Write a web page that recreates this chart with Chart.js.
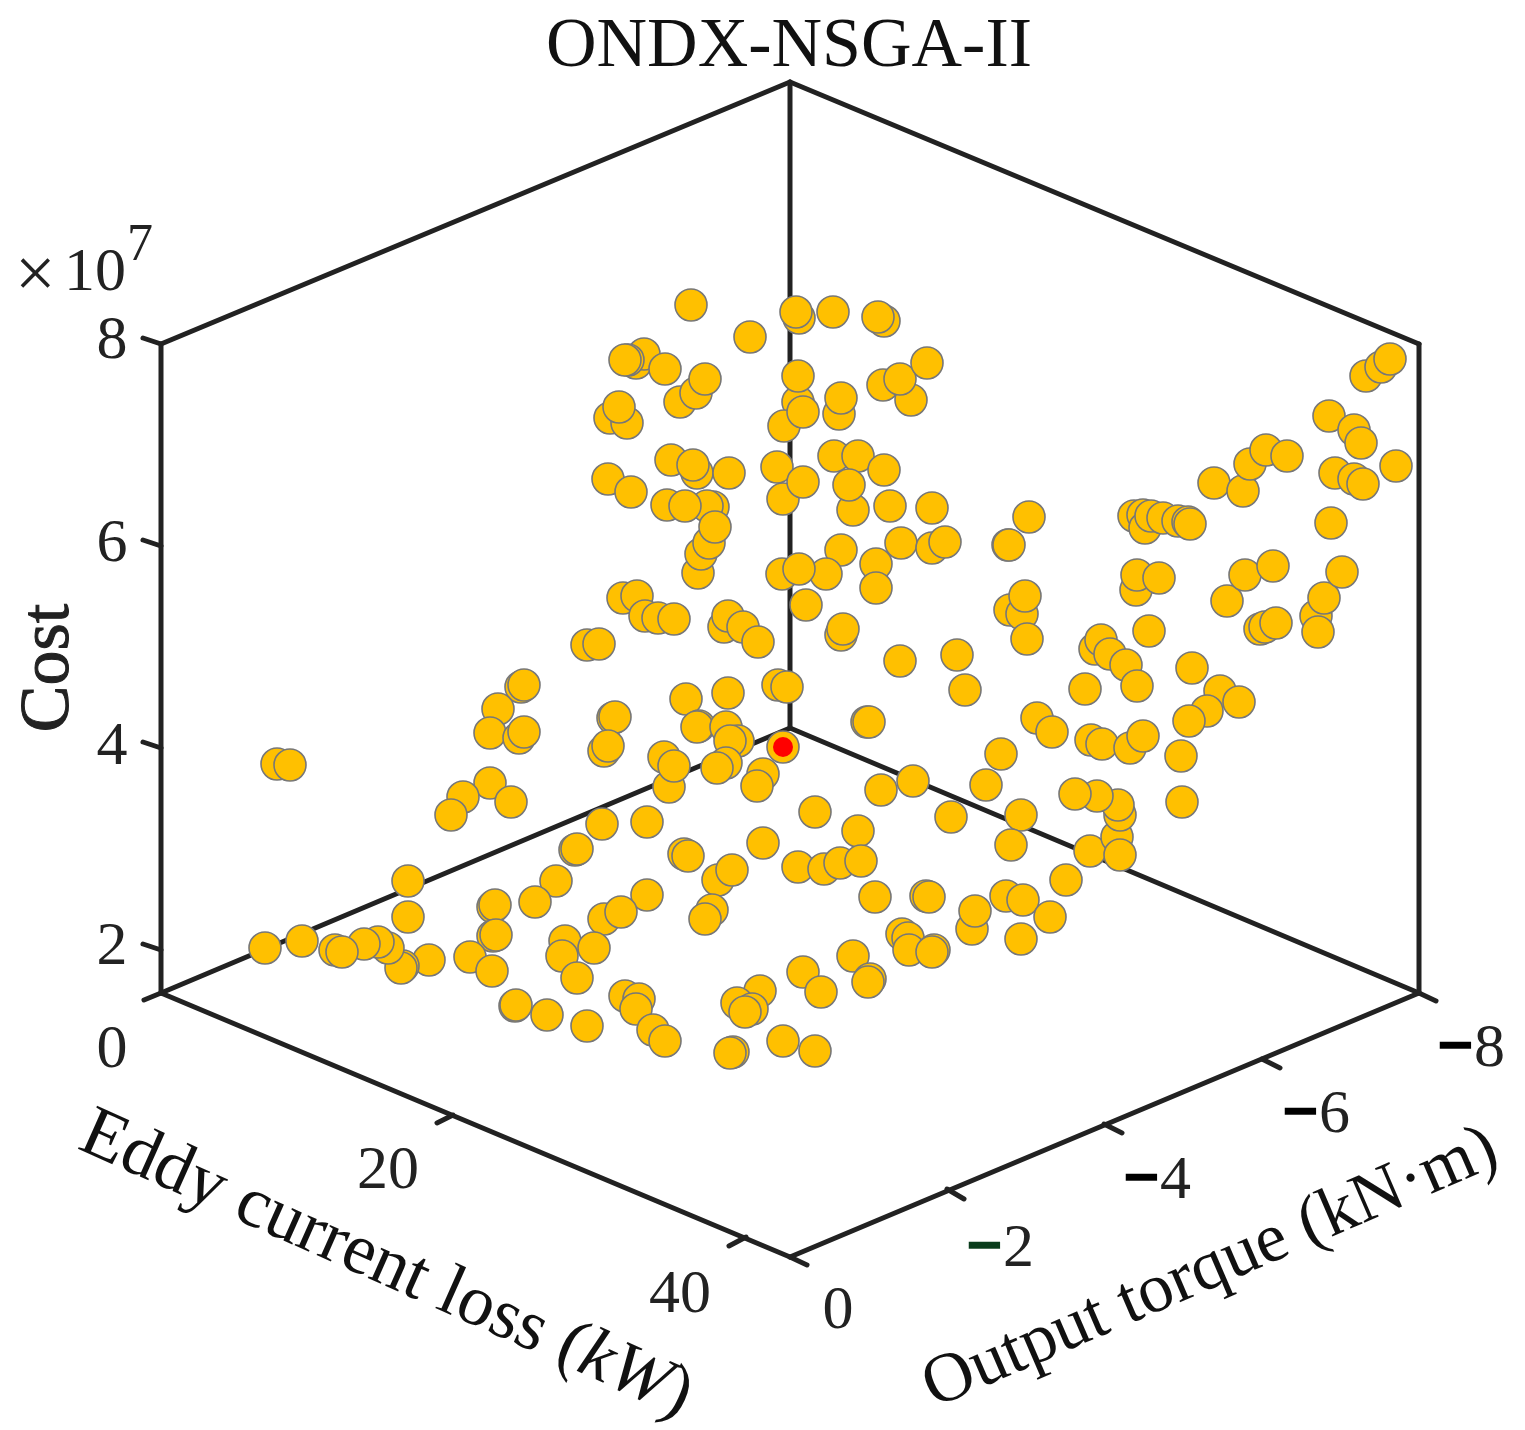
<!DOCTYPE html>
<html><head><meta charset="utf-8"><title>ONDX-NSGA-II</title>
<style>html,body{margin:0;padding:0;background:#fff}canvas{display:block}</style>
<script src="https://cdn.jsdelivr.net/npm/chart.js@4/dist/chart.umd.min.js"></script>
</head><body><canvas id="c" width="1525" height="1430"></canvas>
<script>
// Solutions, in the view plane of the 3-D projection
const viewH=[-9.9,-4.0,0.9,0.6,4.3,9.4,8.8,-15.4,-14.6,-16.2,-16.5,-12.5,-11.0,-9.4,-8.5,-18.0,-16.3,-17.1,0.8,0.8,-0.6,1.3,4.9,5.1,9.3,12.1,11.0,13.7,-11.9,-9.3,-9.7,-6.1,-18.2,-15.9,-0.7,-1.3,1.3,4.4,6.8,9.4,6.3,5.9,10.0,14.2,-12.3,-7.7,-8.3,-10.5,-9.2,-8.9,-8.1,-7.5,11.1,14.2,15.5,5.1,8.6,8.6,-0.8,3.6,0.9,1.6,-16.7,-15.3,-14.5,-13.2,-11.6,-6.6,-6.2,-4.7,-3.2,5.1,5.3,-20.3,-19.1,21.8,21.9,23.9,22.0,23.2,23.5,23.7,16.7,11.0,17.5,-1.2,-0.3,-10.4,-6.2,-9.1,-9.3,-6.4,-5.2,-6.0,7.7,7.9,-26.9,-26.6,-29.2,-30.0,-27.1,-26.6,-17.7,-17.5,-18.6,-18.2,-51.3,-50.0,-30.0,-32.7,-33.9,-27.9,-12.1,-12.6,-11.6,-6.4,-7.3,-2.7,-3.3,-0.7,2.5,9.1,12.3,19.6,21.1,16.1,23.1,22.1,6.8,-2.7,0.8,3.4,5.0,7.1,8.5,-18.8,-14.3,-21.5,-21.3,-10.6,-10.2,-7.2,-5.8,-14.3,-23.4,-25.5,-29.7,-29.5,-38.2,-38.2,-29.7,-29.4,-18.6,-16.9,-7.8,-8.5,-22.5,-22.8,-19.6,-21.3,-32.0,-29.8,-36.1,-38.7,-38.9,-40.2,-41.2,-42.6,-45.5,-44.8,-48.8,-52.5,-27.5,-27.4,-24.3,-20.3,-16.5,-15.1,-15.4,-13.7,-12.5,-5.7,-6.0,-0.7,2.5,-3.0,-5.3,-3.8,-4.5,1.3,3.1,6.3,8.0,7.8,11.2,11.8,11.9,14.4,14.2,18.2,18.5,13.6,13.9,21.6,23.3,23.1,26.0,27.6,30.0,32.7,33.0,33.0,32.8,30.7,28.5,24.7,26.2,30.1,31.2,34.0,35.3,39.1,39.2,29.5,30.5,31.1,32.0,33.6,34.7,35.9,40.2,34.6,34.7,36.9,34.4,35.3,35.5,36.1,37.3,38.8,39.8,40.0,42.4,45.3,46.0,47.6,49.7,43.7,45.5,48.3,47.0,47.5,48.6,52.6,52.8,53.4,55.2,54.1,53.9,56.4,57.1,54.5,56.4,57.3,60.6,57.6,59.1,60.0,43.0,44.9,41.7,39.9];
const viewV=[95.2,92.0,93.9,94.5,94.5,93.6,94.0,89.4,90.3,89.7,89.7,88.8,85.5,86.4,87.8,83.9,83.4,85.0,85.5,88.1,83.1,84.5,84.3,85.9,87.2,85.7,87.8,89.4,79.7,78.4,79.2,78.4,77.8,76.5,75.8,79.0,77.5,80.1,80.1,78.7,74.7,77.2,75.1,74.9,75.2,75.0,75.1,75.1,68.4,70.3,71.4,73.0,71.4,70.9,71.5,70.7,69.3,66.9,68.3,68.3,68.8,65.2,65.9,66.1,64.1,63.9,63.8,63.0,64.1,63.0,61.5,62.2,62.8,61.2,61.3,71.2,71.2,74.0,64.7,64.3,66.1,61.8,60.2,59.6,56.7,57.2,57.0,55.8,56.4,53.1,53.0,53.0,51.6,51.6,53.5,53.5,57.0,57.2,54.8,52.4,51.9,52.5,53.9,54.0,50.6,51.1,49.3,49.2,47.4,46.0,44.2,45.5,47.0,50.0,49.1,49.4,48.9,48.3,47.1,51.0,44.5,46.7,47.6,47.2,50.3,44.0,44.2,41.2,42.6,41.4,39.0,38.8,39.4,39.6,36.0,43.3,43.5,40.7,40.8,40.3,40.1,37.7,38.7,36.2,37.6,35.5,35.0,35.2,37.6,34.0,32.1,32.2,33.8,34.5,34.7,33.8,31.6,30.1,30.9,27.9,30.0,28.6,29.7,29.1,28.9,30.9,31.5,31.3,30.7,30.5,31.6,30.9,25.1,25.2,24.2,23.1,26.1,25.8,24.8,22.7,21.6,20.5,20.4,21.6,20.6,26.6,25.4,24.8,24.5,28.5,26.5,30.1,27.8,27.5,32.3,31.9,30.7,30.7,30.5,32.8,34.6,36.1,36.0,36.1,35.7,31.8,34.0,37.7,40.6,42.0,40.2,44.2,45.2,46.1,46.3,53.9,52.5,51.7,51.3,50.9,52.1,50.1,45.5,56.8,60.8,61.7,60.3,59.2,57.1,62.6,58.9,66.7,68.2,67.9,74.1,74.2,72.9,74.1,73.9,73.6,73.5,73.3,77.4,76.6,79.3,80.7,80.1,65.6,68.2,69.1,62.8,63.0,63.4,64.1,62.5,65.9,68.5,73.4,84.1,82.7,81.4,78.4,77.8,77.3,79.1,88.1,89.0,89.8,56.6,55.5,54.6,53.6];
const bestH=[-0.7], bestV=[51.0];

// Cube edges and ticks in the same view plane
const edgeH=[[0,0],[-62.9,0],[0,62.9],[-62.9,-62.9],[62.9,62.9],[-62.9,0],[0,62.9],[-62.9,0],[0,62.9]];
const edgeV=[[52.9,117.5],[91.3,117.5],[117.5,91.3],[91.3,26.4],[91.3,26.4],[26.4,52.9],[52.9,26.4],[26.4,0],[0,26.4]];
const tickH=[[-62.9,-64.7],[-62.9,-64.7],[-62.9,-64.7],[-62.9,-64.7],[-62.9,-64.6],[-33.7,-35.3],[-4.4,-6.1],[0,1.7],[15.7,17.4],[31.4,33.2],[47.2,49.0],[62.9,64.6]];
const tickV=[[91.3,91.9],[71.1,71.7],[50.9,51.5],[30.7,31.3],[26.4,25.7],[14.2,13.4],[2.0,1.1],[0,-0.8],[6.8,5.8],[13.3,12.4],[19.8,18.9],[26.4,25.6]];

const costTicks=["8","6","4","2"];
const lossTicks=["0","20","40"];
const torqueTicks=["0","2","4","6","8"];

const SERIF='"Liberation Serif","Times New Roman",serif';
const INK='#222222';
const seg=(hs,vs,w)=>hs.map((h,i)=>({type:'scatter',showLine:true,order:5,borderColor:INK,borderWidth:w,pointRadius:0,borderCapStyle:'round',
  data:h.map((x,j)=>({x,y:vs[i][j]}))}));

const textPlugin={id:'labels3d',afterDraw(chart){
  const c=chart.ctx;c.save();c.fillStyle=INK;c.textBaseline='alphabetic';
  const put=(t,x,y,size,align='center',color=INK,weight='')=>{c.font=`${weight} ${size}px ${SERIF}`;c.textAlign=align;c.fillStyle=color;c.fillText(t,x,y);};
  put('ONDX-NSGA-II',789,66,70,'center','#111');
  // cost axis
  const zy=[358,561,764,964];
  costTicks.forEach((t,i)=>put(t,112,zy[i],62));
  put('×',15,297,72,'left');
  put('10',64,290,62,'left');
  put('7',127,260,52,'left');
  c.save();c.translate(68,668);c.rotate(-Math.PI/2);put('Cost',0,0,70,'center','#222');
  c.strokeStyle='#222';c.lineWidth=1;c.strokeText('Cost',0,0);c.restore();
  // loss axis
  put(lossTicks[0],112,1067,62);put(lossTicks[1],388,1188,62);put(lossTicks[2],680,1312,62);
  // torque axis
  put(torqueTicks[0],838,1328,62);
  const tx=[1003,1160,1319,1474],ty=[1266,1198,1132,1066],mc=['#0a3d1c','#000','#000','#000'];
  torqueTicks.slice(1).forEach((t,i)=>{put(t,tx[i],ty[i],62,'left');put('−',tx[i]-1,ty[i],62,'right',mc[i],'bold');
    c.strokeStyle=mc[i];c.lineWidth=2.5;c.strokeText('−',tx[i]-1,ty[i]);});
  // axis titles
  c.save();c.translate(76,1148);c.rotate(24*Math.PI/180);
  put('Eddy current loss (',0,0,72,'left','#111');
  let w=c.measureText('Eddy current loss (').width;
  c.font=`italic 72px ${SERIF}`;c.textAlign='left';c.fillText('kW',w,0);w+=c.measureText('kW').width;
  put(')',w,0,72,'left','#111');c.restore();
  c.save();c.translate(934,1408);c.rotate(-23.3*Math.PI/180);put('Output torque (kN·m)',0,0,70,'left','#111');c.restore();
  c.restore();
}};

new Chart(document.getElementById('c'),{
  type:'scatter',
  data:{datasets:[
    ...seg(edgeH,edgeV,5),...seg(tickH,tickV,5),
    {order:2,data:viewH.map((x,i)=>({x,y:viewV[i]})),pointRadius:16,pointBackgroundColor:'#FFC000',pointBorderColor:'#777777',pointBorderWidth:1.6},
    {order:1,data:bestH.map((x,i)=>({x,y:bestV[i]})),pointRadius:10,pointBackgroundColor:'#FF0000',pointBorderColor:'#FF0000',pointBorderWidth:0}
  ]},
  options:{responsive:false,animation:false,devicePixelRatio:1,layout:{padding:0,autoPadding:false},
    plugins:{legend:{display:false},tooltip:{enabled:false},title:{display:false}},
    scales:{x:{type:'linear',display:false,min:-79,max:73.5},y:{type:'linear',display:false,min:-17.3,max:125.7}}},
  plugins:[textPlugin]
});
</script></body></html>
